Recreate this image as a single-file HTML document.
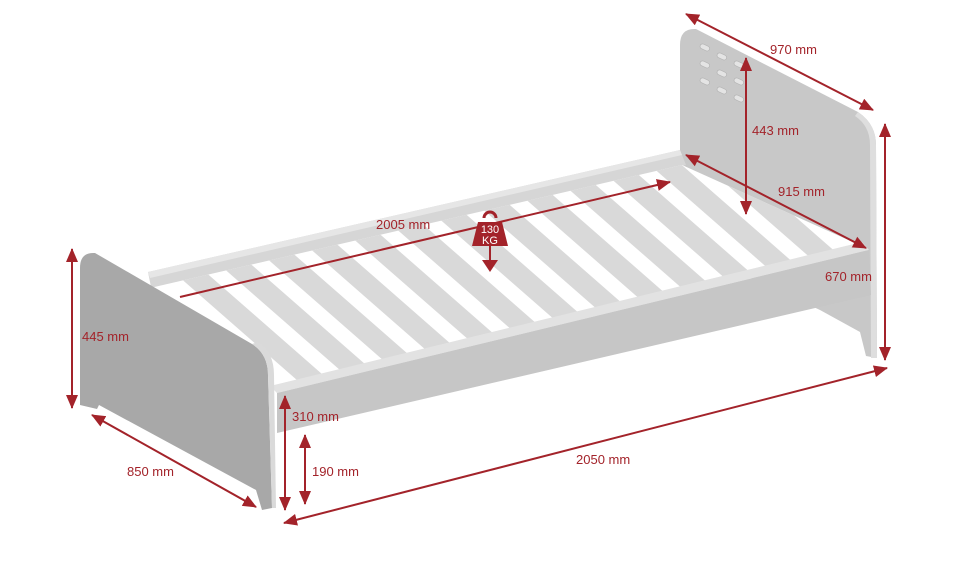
<!DOCTYPE html>
<html><head><meta charset="utf-8"><style>
html,body{margin:0;padding:0;background:#fff}
svg{display:block}
text{font-family:"Liberation Sans",sans-serif;font-size:13px;fill:#a3232a}
</style></head><body>
<svg width="980" height="576" viewBox="0 0 980 576" xmlns="http://www.w3.org/2000/svg">
<defs>
<marker id="a" viewBox="0 0 14 12" refX="13" refY="6" markerWidth="14" markerHeight="12" markerUnits="userSpaceOnUse" orient="auto-start-reverse">
<path d="M0,0 L14,6 L0,12 z" fill="#a3232a"/></marker>
<clipPath id="in"><polygon points="150,288 682,165 866,248 277,392"/></clipPath>
</defs>
<!-- headboard -->
<path d="M680,45 Q680,28 696,29 L858,112 Q876,124 876,145 L877,358 L866,356 L860,332 L820,310 L680,245 Z" fill="#c8c8c8"/>
<path d="M858,112 Q876,124 876,145 L877,358 L871,358 L870,145 Q870,126 855,116 Z" fill="#dedede"/>
<g fill="#e4e4e4" stroke="#b0b0b0" stroke-width="0.6">
<rect x="700" y="45" width="10" height="5" rx="2.5" transform="rotate(25 705 47)"/>
<rect x="717" y="54" width="10" height="5" rx="2.5" transform="rotate(25 722 56)"/>
<rect x="734" y="62" width="10" height="5" rx="2.5" transform="rotate(25 739 64)"/>
<rect x="700" y="62" width="10" height="5" rx="2.5" transform="rotate(25 705 64)"/>
<rect x="717" y="71" width="10" height="5" rx="2.5" transform="rotate(25 722 73)"/>
<rect x="734" y="79" width="10" height="5" rx="2.5" transform="rotate(25 739 81)"/>
<rect x="700" y="79" width="10" height="5" rx="2.5" transform="rotate(25 705 81)"/>
<rect x="717" y="88" width="10" height="5" rx="2.5" transform="rotate(25 722 90)"/>
<rect x="734" y="96" width="10" height="5" rx="2.5" transform="rotate(25 739 98)"/>
</g>
<!-- back rail -->
<polygon points="148,272 680,150 686,165 152,292" fill="#d6d6d6"/>
<polygon points="148,272 680,150 682,155 150,278" fill="#e6e6e6"/>
<!-- interior -->
<polygon points="150,288 682,165 866,248 277,392" fill="#ffffff"/>
<g clip-path="url(#in)" stroke="#d9d9d9" stroke-width="21">
<line x1="130" y1="220" x2="330" y2="395"/>
<line x1="173" y1="210" x2="373" y2="385"/>
<line x1="216" y1="200" x2="416" y2="375"/>
<line x1="259" y1="190" x2="459" y2="365"/>
<line x1="302" y1="180" x2="502" y2="355"/>
<line x1="345" y1="170" x2="545" y2="345"/>
<line x1="388" y1="160" x2="588" y2="335"/>
<line x1="431" y1="150" x2="631" y2="325"/>
<line x1="474" y1="140" x2="674" y2="315"/>
<line x1="517" y1="130" x2="717" y2="305"/>
<line x1="560" y1="120" x2="760" y2="295"/>
<line x1="603" y1="110" x2="803" y2="285"/>
<line x1="646" y1="100" x2="846" y2="275"/>
</g>
<!-- front rail -->
<polygon points="270,386 862,242 869,250 277,393" fill="#e2e2e2"/>
<polygon points="277,393 869,250 871,295 277,433" fill="#c6c6c6"/>
<!-- footboard -->
<path d="M80,268 Q80,252 95,253 L252,344 Q268,354 268,375 L272,508 L262,510 L256,490 L99,405 L97,409 L80,405 Z" fill="#a8a8a8"/>
<path d="M252,344 Q268,354 268,375 L272,508 L276,508 L274,375 Q274,352 258,342 Z" fill="#dadada"/>
<!-- dimensions -->
<g stroke="#a3232a" stroke-width="2" fill="none" marker-start="url(#a)" marker-end="url(#a)">
<line x1="686" y1="14" x2="873" y2="110"/>
<line x1="746" y1="58" x2="746" y2="214"/>
<line x1="686" y1="155" x2="866" y2="248"/>
<line x1="885" y1="124" x2="885" y2="360"/>
<line x1="72" y1="249" x2="72" y2="408"/>
<line x1="92" y1="415" x2="256" y2="507"/>
<line x1="285" y1="396" x2="285" y2="510"/>
<line x1="305" y1="435" x2="305" y2="504"/>
<line x1="284" y1="523" x2="887" y2="368"/>
</g>
<line x1="180" y1="297" x2="670" y2="182" stroke="#a3232a" stroke-width="2" marker-end="url(#a)"/>
<!-- weight -->
<path d="M484,218 a6,6 0 1 1 12,0" stroke="#a3232a" stroke-width="3" fill="none"/>
<path d="M478,222 L502,222 L508,246 L472,246 Z" fill="#a3232a"/>
<text x="490" y="233" text-anchor="middle" style="fill:#fff;font-size:11px">130</text>
<text x="490" y="244" text-anchor="middle" style="fill:#fff;font-size:11px">KG</text>
<line x1="490" y1="246" x2="490" y2="262" stroke="#a3232a" stroke-width="2"/>
<path d="M482,260 L498,260 L490,272 Z" fill="#a3232a"/>
<text x="770" y="54">970 mm</text>
<text x="752" y="135">443 mm</text>
<text x="778" y="196">915 mm</text>
<text x="825" y="281">670 mm</text>
<text x="376" y="229">2005 mm</text>
<text x="82" y="341">445 mm</text>
<text x="127" y="476">850 mm</text>
<text x="292" y="421">310 mm</text>
<text x="312" y="476">190 mm</text>
<text x="576" y="464">2050 mm</text>
</svg>
</body></html>
